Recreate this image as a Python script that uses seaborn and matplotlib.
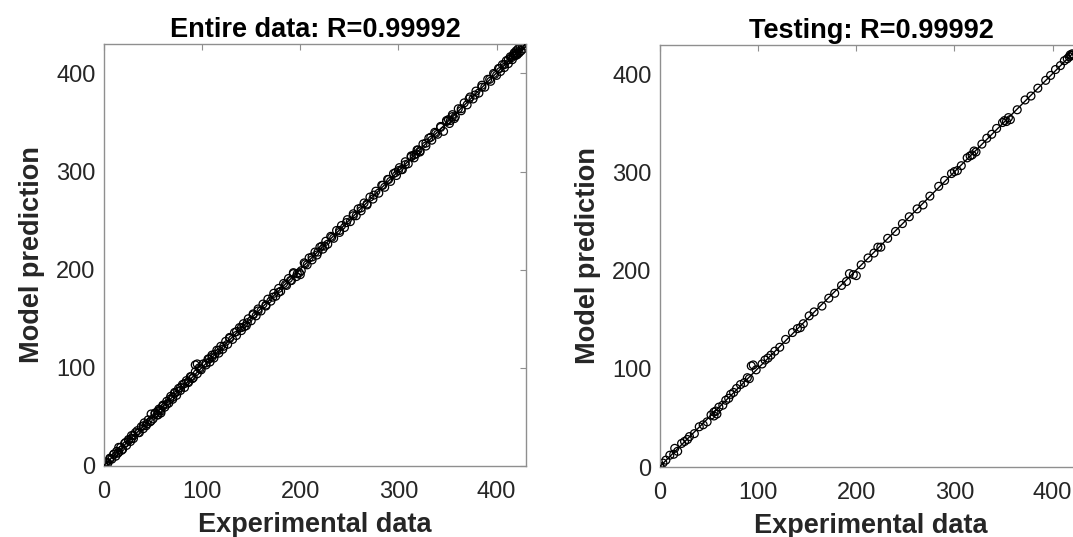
import numpy as np
import pandas as pd
import matplotlib
matplotlib.use("Agg")
import matplotlib.pyplot as plt
import seaborn as sns

# Training samples (experimental vs. model prediction)
train_exp = [0, 0, 0, 2, 4, 6, 8, 10, 12, 13, 15, 17, 19, 21, 23, 25, 27, 28, 30, 32,
             34, 36, 38, 40, 41, 43, 45, 47, 48, 50, 52, 54, 56, 58, 60, 62, 64, 66, 68, 70,
             72, 74, 76, 78, 80, 82, 84, 86, 88, 90, 93, 95, 97, 99, 101, 104, 106, 108, 110, 112,
             115, 117, 119, 121, 124, 126, 128, 131, 133, 135, 138, 140, 142, 145, 147, 150, 152, 155, 157, 160,
             162, 165, 167, 170, 173, 175, 178, 180, 183, 186, 188, 191, 193, 196, 199, 201, 204, 207, 209, 212,
             215, 217, 220, 223, 226, 228, 231, 234, 237, 240, 242, 245, 248, 251, 254, 257, 259, 262, 265, 268,
             271, 274, 277, 280, 283, 286, 289, 292, 295, 298, 301, 304, 307, 310, 313, 316, 319, 322, 325, 328,
             331, 334, 337, 340, 343, 346, 349, 352, 355, 358, 361, 364, 367, 370, 373, 376, 379, 382, 385, 388,
             391, 394, 397, 400, 402, 404, 406, 408, 410, 412, 414, 416, 418, 419, 420, 421, 422, 423, 424, 425,
             426, 427, 428, 429]
train_pred = [0, 0, 1, 4, 3, 8, 7, 12, 10, 15, 14, 19, 17, 23, 21, 27, 25, 31, 28, 34,
              36, 34, 40, 38, 44, 41, 47, 45, 53, 48, 54, 52, 58, 56, 62, 60, 66, 64, 71, 68,
              75, 72, 79, 77, 83, 80, 87, 85, 91, 89, 96, 94, 100, 98, 104, 103, 109, 106, 113, 110,
              118, 115, 122, 119, 127, 124, 131, 129, 136, 133, 141, 138, 145, 143, 150, 148, 155, 153, 160, 158,
              165, 163, 170, 168, 176, 173, 181, 178, 186, 184, 191, 189, 196, 193, 197, 199, 207, 205, 212, 210,
              218, 215, 223, 221, 229, 226, 234, 232, 240, 238, 245, 243, 251, 249, 257, 255, 262, 260, 268, 266,
              274, 272, 280, 278, 286, 284, 292, 290, 298, 296, 304, 302, 310, 308, 316, 314, 322, 320, 328, 326,
              334, 332, 340, 338, 346, 341, 352, 349, 358, 356, 364, 362, 370, 368, 376, 374, 382, 380, 388, 386,
              394, 392, 400, 398, 405, 402, 409, 406, 413, 410, 417, 414, 421, 418, 423, 419, 425, 421, 427, 423,
              429, 425, 430, 428]

# Testing samples
test_exp = [0, 0, 0, 0, 3, 6, 10, 14, 15, 18, 22, 25, 28, 30, 35, 40, 44, 48, 52, 55,
            55, 57, 58, 60, 64, 67, 70, 72, 75, 78, 82, 86, 89, 91, 93, 95, 98, 104, 107, 110,
            113, 117, 122, 128, 135, 140, 143, 146, 152, 157, 165, 172, 178, 185, 190, 193, 197, 200, 205, 212,
            218, 222, 225, 232, 240, 247, 254, 262, 268, 275, 284, 290, 297, 300, 303, 307, 313, 316, 318, 320,
            322, 328, 333, 338, 343, 349, 351, 353, 355, 357, 364, 372, 378, 385, 393, 398, 403, 408, 412, 415,
            417, 418, 419, 420, 421]
test_pred = [0, 0, 1, 0, 4, 7, 12, 13, 19, 16, 24, 26, 28, 31, 34, 41, 43, 46, 53, 56,
             52, 57, 54, 61, 63, 68, 70, 74, 76, 80, 84, 86, 91, 90, 103, 104, 99, 105, 109, 111,
             114, 118, 122, 130, 137, 141, 142, 146, 154, 158, 164, 172, 177, 185, 189, 197, 196, 195, 206, 213,
             218, 224, 224, 233, 240, 248, 255, 263, 267, 276, 286, 292, 299, 301, 302, 307, 315, 317, 318, 322,
             321, 329, 335, 339, 345, 351, 353, 352, 356, 354, 364, 374, 378, 386, 394, 399, 405, 409, 414, 416,
             418, 420, 419, 421, 420]

titles = ["Entire data: R=0.99992", "Testing: R=0.99992"]
ticks = [0, 100, 200, 300, 400]

sns.set_theme(style="white")
plt.rcParams['font.family'] = ['Liberation Sans', 'DejaVu Sans']

entire = pd.DataFrame({"exp": train_exp + test_exp, "pred": train_pred + test_pred})
testing = pd.DataFrame({"exp": test_exp, "pred": test_pred})

fig = plt.figure(figsize=(10.73, 5.37), dpi=100)
ax1 = fig.add_axes([104 / 1073, 71 / 537, 422 / 1073, 422 / 537])
ax2 = fig.add_axes([660 / 1073, 70 / 537, 422 / 1073, 422 / 537])

spine_col = "#8f8f8f"
text_col = "#262626"

for ax, df, title in zip([ax1, ax2], [entire, testing], titles):
    # linear fit of prediction against experiment
    slope, icpt = np.polyfit(df["exp"], df["pred"], 1)
    xs = np.array([df["exp"].min(), df["exp"].max()])
    ax.plot(xs, slope * xs + icpt, color="black", lw=1.0, zorder=3)
    sns.scatterplot(data=df, x="exp", y="pred", ax=ax, marker="o", s=32,
                    facecolor="none", edgecolor="black", linewidth=0.9, zorder=2)
    ax.set_xlim(0, 430)
    ax.set_ylim(0, 430)
    ax.set_xticks(ticks)
    ax.set_yticks(ticks)
    ax.tick_params(direction="in", length=4, width=0.8, color=spine_col,
                   top=True, right=True, labelsize=17, labelcolor=text_col)
    ax.tick_params(axis="x", pad=10.5)
    ax.tick_params(axis="y", pad=6)
    for sp in ax.spines.values():
        sp.set_color(spine_col)
        sp.set_linewidth(1.0)
    ax.set_title(title, fontsize=19.5, fontweight="bold", color="black", pad=5)
    ax.set_xlabel("Experimental data", fontsize=19.5, fontweight="bold", color=text_col, labelpad=6.5)
    ax.set_ylabel("Model prediction", fontsize=19.5, fontweight="bold", color=text_col, labelpad=8)

fig.savefig("out.png", dpi=100)
